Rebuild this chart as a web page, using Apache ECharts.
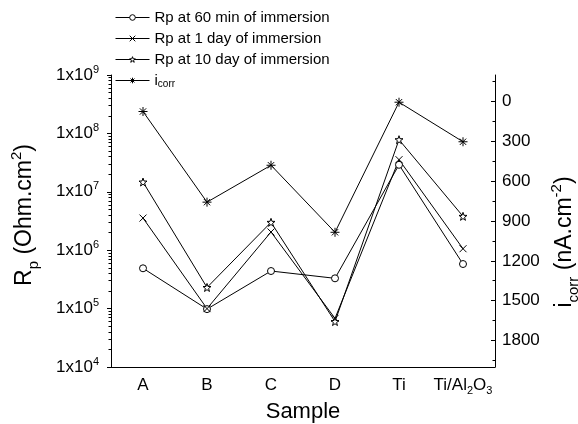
<!DOCTYPE html>
<html>
<head>
<meta charset="utf-8">
<script src="https://cdn.jsdelivr.net/npm/echarts@6/dist/echarts.min.js"></script>
<style>
html, body { margin: 0; padding: 0; background: #fff; }
#chart { width: 578px; height: 424px; }
</style>
</head>
<body>
<div id="chart"></div>
<script>
// data ------------------
var samples = ['A', 'B', 'C', 'D', 'Ti', 'Ti/Al2O3'];
var rp60min = [4.9e5, 9.8e4, 4.4e5, 3.3e5, 2.9e7, 5.8e5];
var rp1day = [3.55e6, 1.0e5, 2.05e6, 6.8e4, 3.55e7, 1.06e6];
var rp10day = [1.47e7, 2.3e5, 3.0e6, 6.0e4, 7.8e7, 3.8e6];
var icorr = [75, 758, 480, 985, 5, 303];

var icorrTicks = [0, 300, 600, 900, 1200, 1500, 1800];
var icorrMinorTicks = [-150, 150, 450, 750, 1050, 1350, 1650, 1950];
var rpDecades = [4, 5, 6, 7, 8];

// log minor ticks (2..9 x 10^n), as log10 values
var rpMinorTicks = [];
rpDecades.forEach(function (d) {
	for (var k = 2; k <= 9; k++) rpMinorTicks.push(d + Math.log10(k));
});

var FONT = 'Liberation Sans, Arial, sans-serif';
var chart = echarts.init(document.getElementById('chart'));

var STAR = 'path://M50,2L61.76,35.82L97.55,36.55L69.02,58.18L79.39,92.45L50,72L20.61,92.45L30.98,58.18L2.45,36.55L38.24,35.82Z';
var CROSS = 'path://M0,0L10,10M10,0L0,10';
var ASTER = 'path://M5,0L5,10M0,5L10,5M1.5,1.5L8.5,8.5M8.5,1.5L1.5,8.5';

function lineSeries(name, data, symbol, size, yIdx) {
	return {
		name: name,
		type: 'line',
		xAxisIndex: 0,
		yAxisIndex: yIdx,
		data: data,
		symbol: symbol,
		symbolSize: size,
		showSymbol: true,
		lineStyle: { color: '#000', width: 1 },
		itemStyle: { color: '#fff', borderColor: '#000', borderWidth: 1 },
		emphasis: { disabled: true },
		animation: false
	};
}

// rich styles: normal text + superscript / subscript
function rich(size, small, lh, shift) {
	return {
		n: { fontFamily: FONT, fontSize: size, color: '#000', lineHeight: lh },
		sup: { fontFamily: FONT, fontSize: small, color: '#000', lineHeight: lh - 2 * shift, verticalAlign: 'top' },
		sub: { fontFamily: FONT, fontSize: small, color: '#000', lineHeight: lh - 2 * shift, verticalAlign: 'bottom' }
	};
}
var richTick = rich(17, 11, 22, 4);
var richLegend = rich(15, 10, 18, 3);
var richTitle = rich(23, 15, 32, 5);

var option = {
	backgroundColor: '#fff',
	animation: false,
	textStyle: { fontFamily: FONT, color: '#000' },
	grid: { left: 111, right: 83, top: 75, bottom: 57, containLabel: false, outerBoundsMode: 'none' },
	legend: {
		orient: 'vertical',
		left: 110,
		top: 5,
		itemWidth: 34,
		itemHeight: 7,
		itemGap: 6,
		lineStyle: { color: '#000', width: 1 },
		itemStyle: { color: '#fff', borderColor: '#000', borderWidth: 1 },
		textStyle: { fontFamily: FONT, fontSize: 15, color: '#000', rich: richLegend },
		formatter: function (name) {
			if (name === 'icorr') return '{n|i}{sub|corr}';
			return '{n|' + name + '}';
		},
		data: ['Rp at 60 min of immersion', 'Rp at 1 day of immersion', 'Rp at 10 day of immersion', 'icorr']
	},
	graphic: [{
		type: 'text',
		x: 25,
		y: 215,
		rotation: Math.PI / 2,
		style: {
			text: '{n|R}{sub|p}{n| (Ohm.cm}{sup|2}{n|)}',
			rich: richTitle,
			align: 'center',
			verticalAlign: 'middle'
		}
	}, {
		type: 'text',
		x: 565,
		y: 242,
		rotation: Math.PI / 2,
		style: {
			text: '{n|i}{sub|corr}{n| (nA.cm}{sup|-2}{n|)}',
			rich: richTitle,
			align: 'center',
			verticalAlign: 'middle'
		}
	}],
	xAxis: [{
		type: 'category',
		data: samples,
		boundaryGap: true,
		name: 'Sample',
		nameLocation: 'middle',
		nameGap: 31,
		nameTextStyle: { fontFamily: FONT, fontSize: 22, color: '#000' },
		axisLine: { onZero: false, lineStyle: { color: '#000', width: 1 } },
		axisTick: { alignWithLabel: true, length: 4, lineStyle: { color: '#000' } },
		axisLabel: {
			interval: 0,
			margin: 7,
			rich: richTick,
			formatter: function (v) {
				if (v === 'Ti/Al2O3') return '{n|Ti/Al}{sub|2}{n|O}{sub|3}';
				return '{n|' + v + '}';
			}
		},
		splitLine: { show: false }
	}, {
		// boundary ticks between categories
		type: 'category',
		data: samples,
		boundaryGap: true,
		position: 'bottom',
		axisLine: { show: false, onZero: false },
		axisTick: { alignWithLabel: false, interval: 0, length: 3, lineStyle: { color: '#000' } },
		axisLabel: { show: false },
		splitLine: { show: false }
	}],
	yAxis: [{
		type: 'log',
		logBase: 10,
		min: 1e4,
		max: 1e9,
		position: 'left',
		axisLine: { show: true, onZero: false, lineStyle: { color: '#000', width: 1 } },
		axisTick: { show: true, length: 4, lineStyle: { color: '#000' } },
		axisLabel: {
			margin: 12,
			rich: richTick,
			formatter: function (v) {
				return '{n|1x10}{sup|' + Math.round(Math.log10(v)) + '}';
			}
		},
		minorTick: { show: false },
		splitLine: { show: false }
	}, {
		// minor ticks of the log axis
		type: 'value',
		min: 4,
		max: 9,
		position: 'left',
		axisLine: { show: false, onZero: false },
		axisTick: { show: true, length: 2.5, customValues: rpMinorTicks, lineStyle: { color: '#000' } },
		axisLabel: { show: false },
		splitLine: { show: false }
	}, {
		type: 'value',
		min: -200,
		max: 2000,
		inverse: true,
		position: 'right',
		axisLine: { show: true, onZero: false, lineStyle: { color: '#000', width: 1 } },
		axisTick: { show: true, inside: true, length: 4, customValues: icorrTicks, lineStyle: { color: '#000' } },
		axisLabel: {
			margin: 7,
			customValues: icorrTicks,
			fontFamily: FONT,
			fontSize: 17,
			color: '#000',
			formatter: function (v) { return String(v); }
		},
		splitLine: { show: false }
	}, {
		// minor ticks of the icorr axis
		type: 'value',
		min: -200,
		max: 2000,
		inverse: true,
		position: 'right',
		axisLine: { show: false, onZero: false },
		axisTick: { show: true, inside: true, length: 2.5, customValues: icorrMinorTicks, lineStyle: { color: '#000' } },
		axisLabel: { show: false },
		splitLine: { show: false }
	}],
	series: [
		lineSeries('Rp at 60 min of immersion', rp60min, 'circle', 7, 0),
		lineSeries('Rp at 1 day of immersion', rp1day, CROSS, 7, 0),
		lineSeries('Rp at 10 day of immersion', rp10day, STAR, 8, 0),
		lineSeries('icorr', icorr, ASTER, 9, 2)
	]
};

chart.setOption(option);
</script>
</body>
</html>
